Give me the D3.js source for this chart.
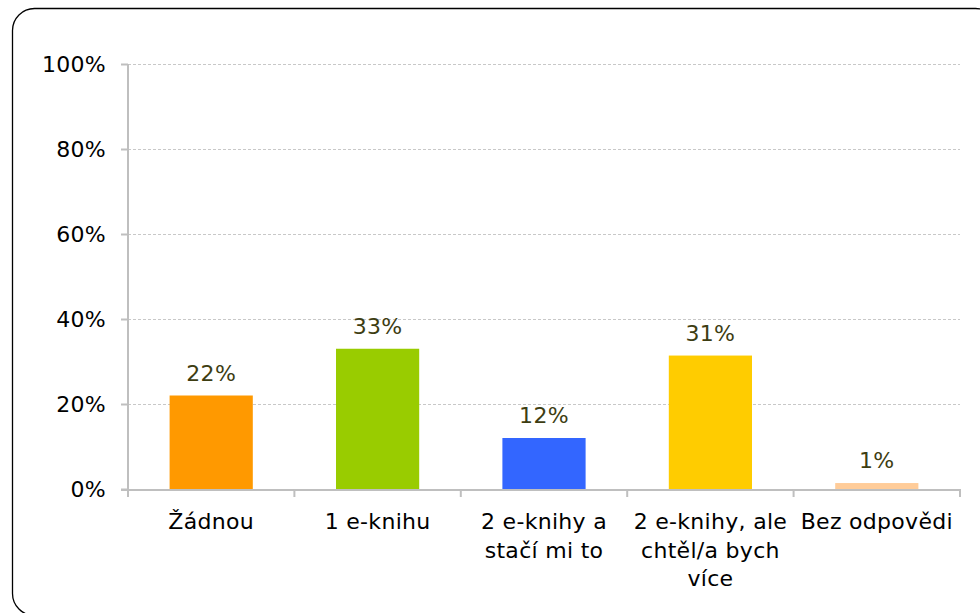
<!DOCTYPE html>
<html>
<head>
<meta charset="utf-8">
<script src="https://cdn.jsdelivr.net/npm/d3@7"></script>
<style>
  body { margin: 0; background: #fff; }
  svg text { font-family: "DejaVu Sans", Verdana, sans-serif; letter-spacing: 0.3px; }
</style>
</head>
<body>
<svg id="chart" width="980" height="613"></svg>
<script>
// chart data
var categories = ['Žádnou', '1 e-knihu', '2 e-knihy a\nstačí mi to', '2 e-knihy, ale\nchtěl/a bych\nvíce', 'Bez odpovědi'];
var values = [22, 33, 12, 31.4, 1.4];
var colors = ['#ff9900', '#99cc00', '#3366ff', '#ffcc00', '#ffcc99'];
var yTicks = [0, 20, 40, 60, 80, 100];

var svg = d3.select('#chart');
var margin = {left: 128, right: 20, top: 64, bottom: 124};
var width = 980, height = 613;
var fontSize = '22px';

// frame
svg.append('rect')
  .attr('x', 12.5).attr('y', 8.5)
  .attr('width', 985).attr('height', 607)
  .attr('rx', 22).attr('ry', 22)
  .attr('fill', 'none')
  .attr('stroke', '#000')
  .attr('stroke-width', 1.3);

var x = d3.scaleBand()
  .domain(d3.range(categories.length))
  .range([margin.left, width - margin.right])
  .paddingInner(0.5).paddingOuter(0.25);

var y = d3.scaleLinear()
  .domain([0, 100])
  .range([height - margin.bottom, margin.top]);

// gridlines
svg.append('g').selectAll('line').data(yTicks.slice(1)).enter().append('line')
  .attr('x1', margin.left).attr('x2', width - margin.right)
  .attr('y1', function(d){ return y(d) + 0.5; })
  .attr('y2', function(d){ return y(d) + 0.5; })
  .attr('stroke', '#c8c8c8')
  .attr('stroke-dasharray', '3,2');

// bars
svg.append('g').selectAll('rect').data(values).enter().append('rect')
  .attr('x', function(d, i){ return x(i); })
  .attr('y', function(d){ return y(d); })
  .attr('width', x.bandwidth())
  .attr('height', function(d){ return y(0) - y(d); })
  .attr('fill', function(d, i){ return colors[i]; });

// value labels
svg.append('g').selectAll('text').data(values).enter().append('text')
  .attr('x', function(d, i){ return x(i) + x.bandwidth() / 2; })
  .attr('y', function(d){ return y(d) - 15; })
  .attr('text-anchor', 'middle')
  .attr('font-size', fontSize)
  .attr('fill', '#3d3d12')
  .text(function(d){ return Math.round(d) + '%'; });

// y axis
var yAxis = svg.append('g')
  .attr('transform', 'translate(' + margin.left + ',0)')
  .call(d3.axisLeft(y).tickValues(yTicks).tickSize(7).tickPadding(15)
    .tickFormat(function(d){ return d + '%'; }));
yAxis.select('.domain').attr('stroke', '#bfbfbf').attr('stroke-width', 2)
  .attr('d', 'M0,' + y(100) + 'V' + (y(0) + 1));
yAxis.selectAll('.tick line').attr('stroke', '#bfbfbf').attr('stroke-width', 2);
yAxis.selectAll('.tick text').attr('font-size', fontSize).attr('fill', '#000')
  .attr('font-family', '"DejaVu Sans", Verdana, sans-serif');

// x axis
var xg = svg.append('g');
xg.append('line')
  .attr('x1', margin.left - 7).attr('x2', width - margin.right + 1)
  .attr('y1', y(0) + 1).attr('y2', y(0) + 1)
  .attr('stroke', '#bfbfbf').attr('stroke-width', 2);
xg.selectAll('.xtick').data(d3.range(categories.length + 1)).enter().append('line')
  .attr('class', 'xtick')
  .attr('x1', function(d){ return margin.left + d * x.step(); })
  .attr('x2', function(d){ return margin.left + d * x.step(); })
  .attr('y1', y(0)).attr('y2', y(0) + 8)
  .attr('stroke', '#bfbfbf').attr('stroke-width', 2);

var labels = xg.selectAll('.xlabel').data(categories).enter().append('text')
  .attr('class', 'xlabel')
  .attr('text-anchor', 'middle')
  .attr('font-size', fontSize)
  .attr('fill', '#000')
  .attr('transform', function(d, i){ return 'translate(' + (x(i) + x.bandwidth() / 2) + ',' + (y(0) + 40) + ')'; });
labels.each(function(d){
  var t = d3.select(this);
  d.split('\n').forEach(function(line, k){
    t.append('tspan').attr('x', 0).attr('y', k * 28.5).text(line);
  });
});
</script>
</body>
</html>
